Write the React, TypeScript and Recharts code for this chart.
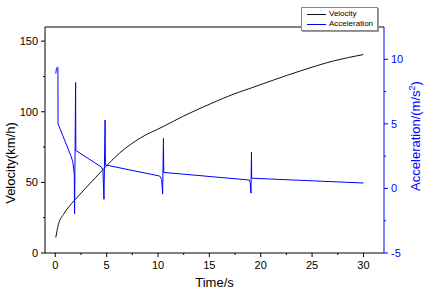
import React from 'react'
import {
  LineChart,
  Line,
  XAxis,
  YAxis,
  Legend,
  Label,
  ReferenceLine,
} from 'recharts'

// velocity curve (km/h)
const velTime = [0.05, 0.3, 0.8, 1.3, 1.9, 2.9, 3.9, 4.7, 6.3, 8.3, 10.5, 12.5, 15.1, 17.4, 19.1, 21.3, 23.9, 27.1, 30]
const velValue = [11, 20, 27.3, 32.5, 37.5, 45.5, 53.3, 59.5, 71, 81.5, 89.5, 97, 105.6, 112.6, 116.9, 122.6, 129, 136, 140.5]

// acceleration (m/s^2) with the gear-shift spikes
const accTime = [
  0.05, 0.12, 0.22, 0.26, 0.27, 1.56, 1.72, 1.85, 1.88, 1.98, 2.0,
  4.48, 4.64, 4.74, 4.85, 4.88,
  10.16, 10.36, 10.45, 10.53, 10.56,
  18.9, 18.98, 19.05, 19.1, 19.12,
  30,
]
const accValue = [
  8.9, 9.3, 9.4, 9.3, 5.0, 2.45, 2.0, 1.1, -1.96, 8.2, 2.94,
  1.66, 1.4, -0.84, 5.3, 1.82,
  0.96, 0.7, -0.44, 3.87, 1.24,
  0.65, 0.45, -0.37, 2.82, 0.79,
  0.42,
]

const seriesOrder = ['Velocity', 'Acceleration']
const xTicks = [0, 2.5, 5, 7.5, 10, 12.5, 15, 17.5, 20, 22.5, 25, 27.5, 30]
const leftTicks = [0, 25, 50, 75, 100, 125, 150]
const rightTicks = [-5, -2.5, 0, 2.5, 5, 7.5, 10]

const velocityData = velTime.map((t, i) => ({ t, v: velValue[i] }))
const accelData = accTime.map((t, i) => ({ t, a: accValue[i] }))

const FONT = '"Liberation Sans", Arial, sans-serif'
const BLUE = '#0000ff'

const XTick = (props: any) => {
  const { x, y, payload } = props
  const major = payload.value % 5 === 0
  return (
    <g>
      <line x1={x} x2={x} y1={y} y2={y + (major ? 4 : 2)} stroke="#000" />
      {major && (
        <text x={x} y={y + 16} textAnchor="middle" fontSize={11} fontFamily={FONT} fill="#000">
          {payload.value}
        </text>
      )}
    </g>
  )
}

const LeftTick = (props: any) => {
  const { x, y, payload } = props
  const major = payload.value % 50 === 0
  return (
    <g>
      <line x1={x} x2={x - (major ? 4 : 2)} y1={y} y2={y} stroke="#000" />
      {major && (
        <text x={x - 7} y={y + 4} textAnchor="end" fontSize={11} fontFamily={FONT} fill="#000">
          {payload.value}
        </text>
      )}
    </g>
  )
}

const RightTick = (props: any) => {
  const { x, y, payload } = props
  const major = payload.value % 5 === 0
  return (
    <g>
      <line x1={x} x2={x + (major ? 4 : 2)} y1={y} y2={y} stroke={BLUE} />
      {major && (
        <text x={x + 7} y={y + 4} textAnchor="start" fontSize={11} fontFamily={FONT} fill={BLUE}>
          {payload.value}
        </text>
      )}
    </g>
  )
}

const LegendBox = (props: any) => {
  const items = [...(props.payload || [])].sort(
    (a: any, b: any) => seriesOrder.indexOf(a.value) - seriesOrder.indexOf(b.value)
  )
  return (
    <div
      style={{
        border: '1px solid #888',
        boxShadow: '1px 1px 0 #999',
        background: '#fff',
        padding: '1px 0 1px 5px',
        fontFamily: FONT,
        fontSize: 8,
        lineHeight: '10px',
      }}
    >
      {items.map((it: any) => (
        <div key={it.value} style={{ display: 'flex', alignItems: 'center' }}>
          <span style={{ display: 'inline-block', width: 19, height: 1, background: it.color, marginRight: 3 }} />
          <span>{it.value}</span>
        </div>
      ))}
    </div>
  )
}

export default function App() {
  return (
    <div style={{ position: 'absolute', left: 0, top: 0, width: 425, height: 295, background: '#fff' }}>
      <LineChart width={425} height={295} margin={{ top: 3, right: 0, left: 0, bottom: 0 }}>
        <XAxis
          dataKey="t"
          type="number"
          domain={[-1, 32]}
          ticks={xTicks}
          interval={0}
          allowDataOverflow
          height={42}
          stroke="#000"
          tickSize={0}
          tickMargin={0}
          tick={<XTick />}
        >
          <Label
            content={(p: any) => (
              <text
                x={p.viewBox.x + p.viewBox.width / 2}
                y={p.viewBox.y + 34}
                textAnchor="middle"
                fontSize={13}
                fontFamily={FONT}
                fill="#000"
              >
                Time/s
              </text>
            )}
          />
        </XAxis>
        <YAxis
          yAxisId="left"
          orientation="left"
          type="number"
          domain={[0, 160]}
          ticks={leftTicks}
          interval={0}
          width={45}
          stroke="#000"
          tickSize={0}
          tickMargin={0}
          tick={<LeftTick />}
        >
          <Label
            content={(p: any) => (
              <text
                transform={`translate(${p.viewBox.x + 14.5}, ${p.viewBox.y + 136}) rotate(-90)`}
                textAnchor="middle"
                fontSize={13}
                fontFamily={FONT}
                fill="#000"
              >
                Velocity(km/h)
              </text>
            )}
          />
        </YAxis>
        <YAxis
          yAxisId="right"
          orientation="right"
          type="number"
          domain={[-5, 12.5]}
          ticks={rightTicks}
          interval={0}
          width={41}
          stroke={BLUE}
          tickSize={0}
          tickMargin={0}
          tick={<RightTick />}
        >
          <Label
            content={(p: any) => (
              <text
                transform={`translate(${p.viewBox.x + 35.5}, ${p.viewBox.y + 109}) rotate(-90)`}
                textAnchor="middle"
                fontSize={13}
                fontFamily={FONT}
                fill={BLUE}
              >
                Acceleration/(m/s
                <tspan fontSize={9} dy={-5}>2</tspan>
                <tspan dy={5}>)</tspan>
              </text>
            )}
          />
        </YAxis>
        <ReferenceLine yAxisId="left" y={160} stroke="#000" strokeWidth={1} />
        <Legend
          layout="vertical"
          align="center"
          verticalAlign="top"
          content={<LegendBox />}
          wrapperStyle={{ left: 301, top: 7, width: 77 }}
        />
        <Line
          yAxisId="left"
          data={velocityData}
          dataKey="v"
          name="Velocity"
          type="monotone"
          stroke="#111"
          strokeWidth={1}
          dot={false}
          isAnimationActive={false}
        />
        <Line
          yAxisId="right"
          data={accelData}
          dataKey="a"
          name="Acceleration"
          type="linear"
          stroke={BLUE}
          strokeWidth={1}
          dot={false}
          isAnimationActive={false}
        />
      </LineChart>
    </div>
  )
}
